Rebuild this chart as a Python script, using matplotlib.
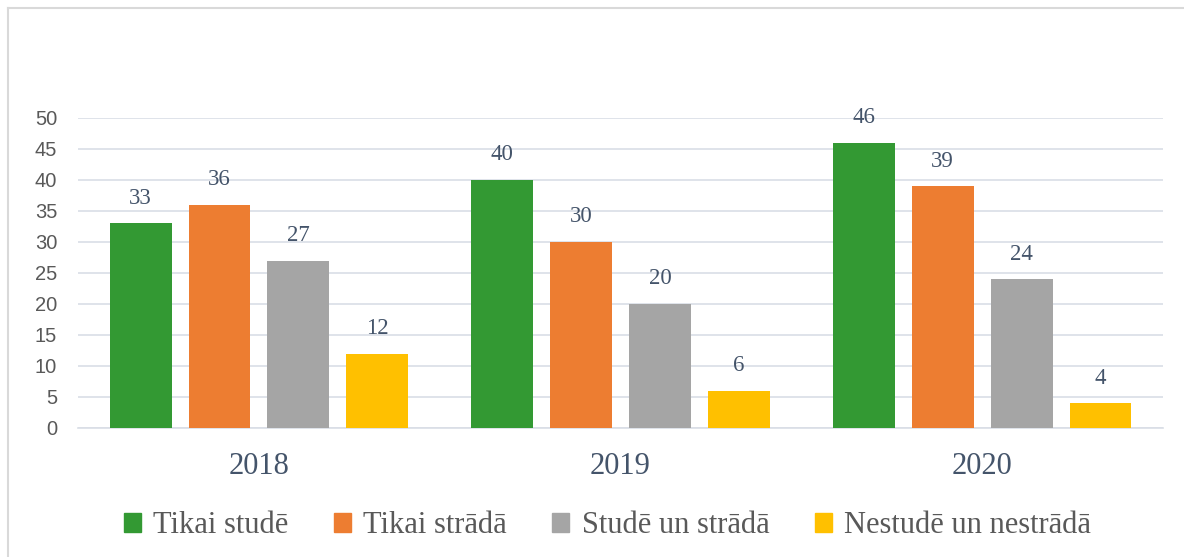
import numpy as np
import matplotlib.pyplot as plt
from matplotlib.patches import Patch
from matplotlib.lines import Line2D

years = ['2018', '2019', '2020']
series = ['Tikai studē', 'Tikai strādā', 'Studē un strādā', 'Nestudē un nestrādā']
tikai_stude = [33, 40, 46]
tikai_strada = [36, 30, 39]
stude_strada = [27, 20, 24]
nestude_nestrada = [12, 6, 4]
colors = ['#339933', '#ED7D31', '#A5A5A5', '#FFC000']

values = [tikai_stude, tikai_strada, stude_strada, nestude_nestrada]

fig = plt.figure(figsize=(11.84, 5.57), dpi=100)
ax = fig.add_axes([0.0659, 0.2316, 0.9164, 0.5566])

x = np.arange(len(years))
width = 0.171
step = 0.218
for i, (vals, col) in enumerate(zip(values, colors)):
    pos = x + (i - 1.5) * step
    bars = ax.bar(pos, vals, width, color=col, zorder=3)
    for b, v in zip(bars, vals):
        ax.annotate(str(v), (b.get_x() + b.get_width() / 2, v),
                    xytext=(0, 18), textcoords='offset points',
                    ha='center', va='center', fontsize=16.5,
                    family='Liberation Serif', color='#44546A')

ax.set_xlim(-0.5, 2.5)
ax.set_ylim(0, 50)
ax.set_yticks(range(0, 51, 5))
ax.set_xticks(x)
ax.set_xticklabels(years, family='Liberation Serif', fontsize=22, color='#44546A')
for lbl in ax.get_yticklabels():
    lbl.set_family('Liberation Sans')
    lbl.set_fontsize(14.5)
    lbl.set_color('#595959')
ax.tick_params(axis='both', length=0)
ax.tick_params(axis='y', pad=15)
ax.tick_params(axis='x', pad=17)
ax.grid(axis='y', color='#D9DEE6', linewidth=1.2, zorder=0)
for s in ['top', 'right', 'left']:
    ax.spines[s].set_visible(False)
ax.spines['bottom'].set_color('#D9DEE6')
ax.spines['bottom'].set_linewidth(1.2)

handles = [Patch(facecolor=c, edgecolor=c) for c in colors]
fig.legend(handles, series, loc='center', bbox_to_anchor=(0.513, 0.056),
           ncol=4, frameon=False, handlelength=0.55, handleheight=0.55,
           handletextpad=0.4, columnspacing=1.5,
           prop={'family': 'Liberation Serif', 'size': 22}, labelcolor='#595959')

# chart border (left and top edges visible)
fig.add_artist(Line2D([8 / 1184, 8 / 1184], [0, 1 - 8 / 557], transform=fig.transFigure,
                      color='#D9D9D9', linewidth=1.5))
fig.add_artist(Line2D([8 / 1184, 1], [1 - 8 / 557, 1 - 8 / 557], transform=fig.transFigure,
                      color='#D9D9D9', linewidth=1.5))

fig.savefig('out.png', dpi=100)
